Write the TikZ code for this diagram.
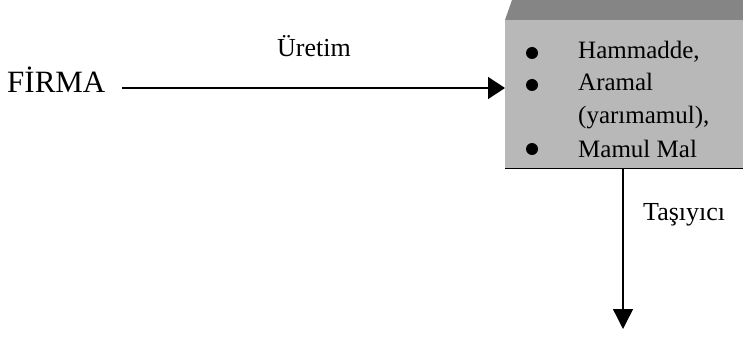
\documentclass[tikz,border=0pt]{standalone}
\usepackage{fontspec}
\setmainfont{Liberation Serif}
\usetikzlibrary{arrows.meta}
\definecolor{frontgray}{gray}{0.72}
\definecolor{topgray}{gray}{0.52}
\begin{document}
\begin{tikzpicture}[x=1pt,y=-1pt,
  lbl/.style={inner sep=0pt,anchor=base west},
  big/.style={lbl,font=\fontsize{31}{31}\selectfont},
  mid/.style={lbl,font=\fontsize{26}{26}\selectfont},
  itemtxt/.style={lbl,font=\fontsize{25}{25}\selectfont},
  dot/.style={circle,fill=black,inner sep=0pt,minimum size=12pt},
  arr/.style={line width=1.4pt,-{Triangle[length=17pt,width=22pt]}},
  varr/.style={line width=1.4pt,-{Triangle[length=20pt,width=20pt]}}]
\useasboundingbox (0,0) rectangle (743,342);
% box
\node (box) [rectangle,fill=frontgray,inner sep=0pt,anchor=north west,
  minimum width=245pt,minimum height=148pt] at (505,20) {};
\fill[topgray] (box.north west) -- (512,0) -- (750,0) -- (box.north east) -- cycle;
\draw[line width=1.2pt] (box.south west) -- (box.south east);
% items
\node (d1) [dot] at (532,53) {};
\node (d2) [dot] at (532,85) {};
\node (d3) [dot] at (532,149) {};
\node (t1) [itemtxt] at (578,59) {Hammadde,};
\node (t2) [itemtxt] at (578,91) {Aramal};
\node (t3) [itemtxt] at (578,123) {(yarımamul),};
\node (t4) [itemtxt] at (578,157) {Mamul Mal};
% labels
\node (firma) [big] at (7,93) {FİRMA};
\node (uretim) [mid] at (277,57) {Üretim};
\node (tasiyici) [mid] at (643,220) {Taşıyıcı};
% connectors
\coordinate (h1) at (122,88);
\draw[arr] (h1) -- (h1 -| box.west);
\coordinate (v1) at (623,168);
\coordinate (v2) at (623,329);
\draw[varr] (v1) -- (v2);
\end{tikzpicture}
\end{document}
